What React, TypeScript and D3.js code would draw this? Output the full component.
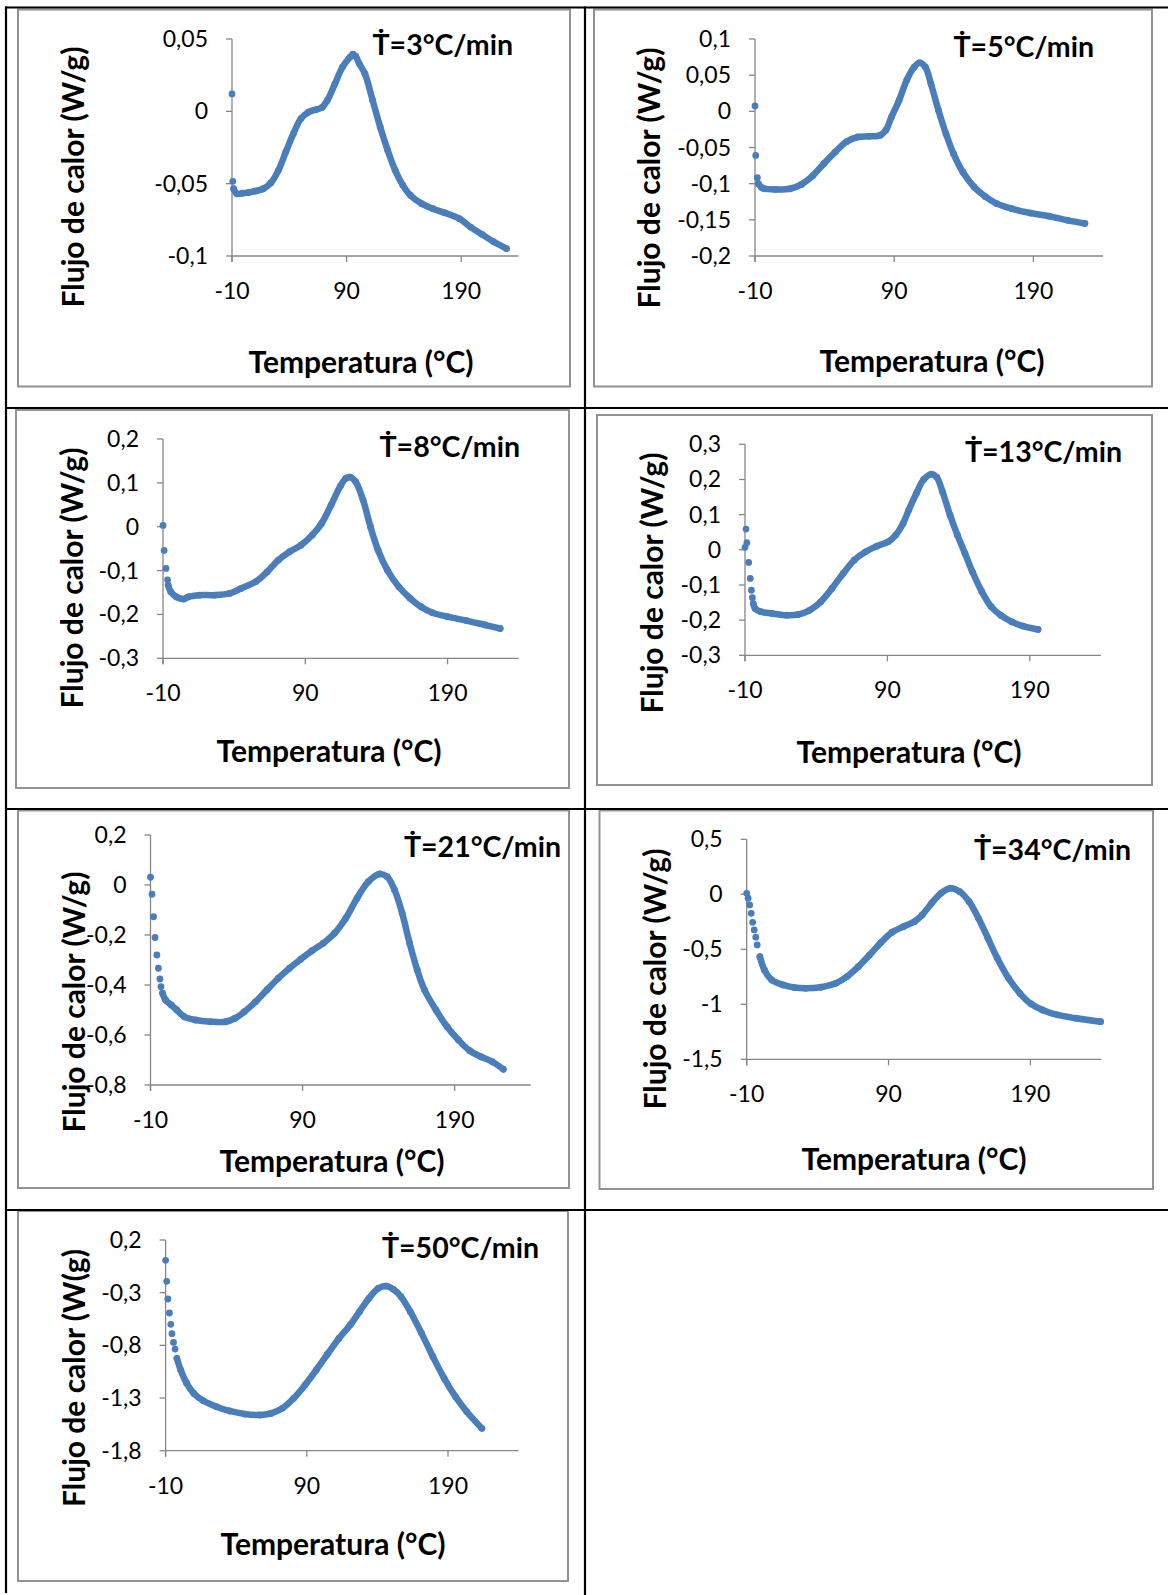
import React from 'react';
import * as d3 from 'd3';

// ---- shared axis settings ----
const tempDomain: [number, number] = [-10, 240];
const tempTicks = [-10, 90, 190];
const tempTickLabels = ['-10', '90', '190'];
const xAxisTitle = 'Temperatura (°C)';
const yAxisTitle = 'Flujo de calor (W/g)';
const yAxisTitleAlt = 'Flujo de calor (W(g)';

// ---- Ṫ = 3 °C/min ----
const r3Title = 'Ṫ=3°C/min';
const r3YTicks = [0.05, 0, -0.05, -0.1];
const r3YTickLabels = ['0,05', '0', '-0,05', '-0,1'];
const r3LeadT = [-10, -9.3];
const r3LeadQ = [0.012, -0.0484];
const r3T = [-8.6, -5.7, -1, 4, 10, 17.3, 23.9, 30.5, 37, 43.6, 50.2, 56.8, 63.4, 68.3, 73.2, 79.8, 86.4, 93, 95.5, 98, 101, 106, 112.7, 119.3, 125.9, 132.4, 139, 145.6, 155.5, 165.3, 175.2, 188.4, 198.2, 208, 218, 229.5];
const r3Q = [-0.0535, -0.057, -0.0566, -0.0562, -0.0552, -0.0535, -0.0495, -0.0408, -0.028, -0.0154, -0.005, -0.0005, 0.0012, 0.0025, 0.0076, 0.019, 0.0306, 0.0375, 0.0395, 0.038, 0.033, 0.026, 0.0076, -0.0108, -0.027, -0.0408, -0.051, -0.058, -0.0638, -0.0673, -0.07, -0.0742, -0.08, -0.085, -0.09, -0.0949];

// ---- Ṫ = 5 °C/min ----
const r5Title = 'Ṫ=5°C/min';
const r5YTicks = [0.1, 0.05, 0, -0.05, -0.1, -0.15, -0.2];
const r5YTickLabels = ['0,1', '0,05', '0', '-0,05', '-0,1', '-0,15', '-0,2'];
const r5LeadT = [-10, -9.5, -8.3];
const r5LeadQ = [0.0074, -0.061, -0.0917];
const r5T = [-7.6, -5.5, -3.5, 4.6, 15.3, 23.4, 31.5, 39.6, 47.7, 55.8, 63.9, 72, 80, 84, 88, 93.5, 99, 104.3, 108.3, 112.4, 116.4, 121.8, 127.2, 132.6, 139.3, 147.4, 155.5, 163.6, 174.4, 187.8, 201.3, 214.8, 227];
const r5Q = [-0.1, -0.105, -0.107, -0.108, -0.107, -0.101, -0.089, -0.072, -0.056, -0.042, -0.0355, -0.0346, -0.033, -0.026, -0.008, 0.015, 0.043, 0.061, 0.067, 0.061, 0.038, 0.0014, -0.031, -0.0585, -0.084, -0.1046, -0.118, -0.1276, -0.1346, -0.1406, -0.145, -0.1507, -0.155];

// ---- Ṫ = 8 °C/min ----
const r8Title = 'Ṫ=8°C/min';
const r8YTicks = [0.2, 0.1, 0, -0.1, -0.2, -0.3];
const r8YTickLabels = ['0,2', '0,1', '0', '-0,1', '-0,2', '-0,3'];
const r8LeadT = [-10, -9.2, -7.9, -6.8];
const r8LeadQ = [0.003, -0.054, -0.095, -0.121];
const r8T = [-6.4, -4.6, -0.6, 4.5, 7.7, 15.6, 26.2, 36.8, 44.7, 55.3, 63.2, 71.1, 79, 87, 94.9, 101.5, 108.1, 114.7, 118.5, 121.5, 125.3, 130.6, 135.8, 141.1, 147.7, 155.7, 163.6, 171.5, 179.4, 190, 203.2, 216.4, 227];
const r8Q = [-0.133, -0.148, -0.16, -0.165, -0.16, -0.156, -0.156, -0.152, -0.141, -0.125, -0.103, -0.076, -0.057, -0.042, -0.019, 0.0076, 0.049, 0.093, 0.11, 0.113, 0.103, 0.061, 0, -0.053, -0.099, -0.137, -0.163, -0.183, -0.196, -0.205, -0.214, -0.224, -0.232];

// ---- Ṫ = 13 °C/min ----
const r13Title = 'Ṫ=13°C/min';
const r13YTicks = [0.3, 0.2, 0.1, 0, -0.1, -0.2, -0.3];
const r13YTickLabels = ['0,3', '0,2', '0,1', '0', '-0,1', '-0,2', '-0,3'];
const r13LeadT = [-10, -9.3, -8.7, -7.4, -6.3, -5.5, -4.8];
const r13LeadQ = [0.007, 0.059, 0.02, -0.036, -0.0815, -0.115, -0.136];
const r13T = [-4.2, -2.9, 1, 9, 19.5, 27.4, 35.3, 43.2, 51, 59, 66.8, 74.7, 82.6, 90.5, 95.8, 101, 105, 110.3, 115.5, 120.8, 124.7, 128.7, 134, 139.2, 144.5, 149.7, 156.3, 162.9, 169.5, 177.4, 185.3, 195.8];
const r13Q = [-0.153, -0.167, -0.176, -0.181, -0.186, -0.184, -0.172, -0.148, -0.11, -0.067, -0.029, -0.0057, 0.0104, 0.0227, 0.042, 0.075, 0.113, 0.16, 0.2, 0.215, 0.206, 0.165, 0.0986, 0.0417, -0.0104, -0.0626, -0.119, -0.162, -0.186, -0.205, -0.217, -0.2265];

// ---- Ṫ = 21 °C/min ----
const r21Title = 'Ṫ=21°C/min';
const r21YTicks = [0.2, 0, -0.2, -0.4, -0.6, -0.8];
const r21YTickLabels = ['0,2', '0', '-0,2', '-0,4', '-0,6', '-0,8'];
const r21LeadT = [-10, -9, -8, -7, -5.8, -4.8, -3.8, -3.1];
const r21LeadQ = [0.031, -0.037, -0.127, -0.21, -0.28, -0.333, -0.376, -0.407];
const r21T = [-2.1, -0.1, 3.6, 7.3, 12.2, 19.6, 29.5, 39.4, 45.6, 51.7, 59.1, 66.5, 74, 81.4, 88.8, 96.2, 103.6, 111, 118.4, 125.8, 133.2, 140.6, 145.6, 150.5, 155.5, 160.4, 165.4, 170.2, 177.7, 185, 192.5, 199.9, 207.3, 214.7, 222];
const r21Q = [-0.433, -0.46, -0.48, -0.5, -0.527, -0.54, -0.547, -0.547, -0.533, -0.507, -0.467, -0.42, -0.373, -0.333, -0.297, -0.263, -0.233, -0.193, -0.133, -0.053, 0.013, 0.044, 0.033, -0.02, -0.113, -0.233, -0.34, -0.42, -0.5, -0.567, -0.62, -0.663, -0.687, -0.707, -0.737];

// ---- Ṫ = 34 °C/min ----
const r34Title = 'Ṫ=34°C/min';
const r34YTicks = [0.5, 0, -0.5, -1, -1.5];
const r34YTickLabels = ['0,5', '0', '-0,5', '-1', '-1,5'];
const r34LeadT = [-10, -9, -7.9, -6.8, -5.8, -4.7, -3.6, -2.6];
const r34LeadQ = [0.009, -0.036, -0.097, -0.173, -0.255, -0.324, -0.39, -0.46];
const r34T = [-0.7, 2.5, 7.7, 15.7, 23.6, 31.6, 42.2, 52.8, 60.7, 68.7, 76.6, 84.6, 92.5, 100.5, 108.4, 113.7, 120.3, 126.9, 133.6, 140.2, 146.8, 153.4, 160.1, 166.7, 174.6, 182.6, 190.5, 198.5, 209.1, 222.3, 239.5];
const r34Q = [-0.567, -0.688, -0.779, -0.824, -0.848, -0.855, -0.845, -0.809, -0.748, -0.658, -0.552, -0.439, -0.345, -0.294, -0.248, -0.188, -0.082, 0.009, 0.055, 0.024, -0.067, -0.218, -0.4, -0.582, -0.764, -0.9, -0.997, -1.052, -1.097, -1.127, -1.158];

// ---- Ṫ = 50 °C/min ----
const r50Title = 'Ṫ=50°C/min';
const r50YTicks = [0.2, -0.3, -0.8, -1.3, -1.8];
const r50YTickLabels = ['0,2', '-0,3', '-0,8', '-1,3', '-1,8'];
const r50LeadT = [-10, -9.2, -8.4, -7.3, -6.3, -5.5, -4.4, -3.3];
const r50LeadQ = [0.007, -0.192, -0.36, -0.493, -0.6, -0.689, -0.772, -0.835];
const r50T = [-2, 0.7, 4.7, 10, 16.7, 26, 35.3, 46, 56.7, 64.7, 72.7, 80.7, 88.7, 96.7, 104.7, 112.7, 120.7, 127.3, 134, 140.7, 146, 151.3, 156.7, 163.3, 171.3, 179.3, 187.3, 195.3, 203.3, 214];
const r50Q = [-0.923, -1.034, -1.154, -1.256, -1.325, -1.382, -1.423, -1.452, -1.461, -1.446, -1.398, -1.303, -1.177, -1.034, -0.882, -0.734, -0.607, -0.48, -0.354, -0.259, -0.237, -0.268, -0.338, -0.48, -0.686, -0.908, -1.113, -1.287, -1.43, -1.588];

type Series = {
  title: string;
  yLabel: string;
  yTicks: number[];
  yTickLabels: string[];
  leadT: number[];
  leadQ: number[];
  t: number[];
  q: number[];
};

const series: Series[] = [
  { title: r3Title, yLabel: yAxisTitle, yTicks: r3YTicks, yTickLabels: r3YTickLabels, leadT: r3LeadT, leadQ: r3LeadQ, t: r3T, q: r3Q },
  { title: r5Title, yLabel: yAxisTitle, yTicks: r5YTicks, yTickLabels: r5YTickLabels, leadT: r5LeadT, leadQ: r5LeadQ, t: r5T, q: r5Q },
  { title: r8Title, yLabel: yAxisTitle, yTicks: r8YTicks, yTickLabels: r8YTickLabels, leadT: r8LeadT, leadQ: r8LeadQ, t: r8T, q: r8Q },
  { title: r13Title, yLabel: yAxisTitle, yTicks: r13YTicks, yTickLabels: r13YTickLabels, leadT: r13LeadT, leadQ: r13LeadQ, t: r13T, q: r13Q },
  { title: r21Title, yLabel: yAxisTitle, yTicks: r21YTicks, yTickLabels: r21YTickLabels, leadT: r21LeadT, leadQ: r21LeadQ, t: r21T, q: r21Q },
  { title: r34Title, yLabel: yAxisTitle, yTicks: r34YTicks, yTickLabels: r34YTickLabels, leadT: r34LeadT, leadQ: r34LeadQ, t: r34T, q: r34Q },
  { title: r50Title, yLabel: yAxisTitleAlt, yTicks: r50YTicks, yTickLabels: r50YTickLabels, leadT: r50LeadT, leadQ: r50LeadQ, t: r50T, q: r50Q },
];

// ---- page layout (pixels) ----
type Layout = {
  frame: [number, number, number, number]; // x0, y0, x1, y1
  plot: [number, number, number, number]; // left, right, top, bottom
  title: [number, number];
  xLabel: [number, number];
  yLabel: [number, number];
};

const layouts: Layout[] = [
  { frame: [18, 9.5, 570, 386.5], plot: [232, 518.5, 39, 256], title: [513, 55], xLabel: [361, 373], yLabel: [84, 177] },
  { frame: [594, 9.5, 1152, 386.5], plot: [755, 1103, 39, 256], title: [1094, 56.5], xLabel: [932, 372], yLabel: [660, 178] },
  { frame: [16, 410, 569, 788], plot: [163, 518.7, 439, 658.3], title: [520, 456.5], xLabel: [329, 762], yLabel: [82.5, 578] },
  { frame: [597, 415, 1152, 785], plot: [745, 1101, 444.3, 655.3], title: [1122, 461.5], xLabel: [909, 763], yLabel: [662.5, 583] },
  { frame: [18, 810.5, 569, 1188], plot: [150.5, 530.7, 835, 1085], title: [561, 856.5], xLabel: [332, 1172], yLabel: [85, 1002] },
  { frame: [599.5, 810.5, 1153, 1189], plot: [746.7, 1101.3, 839.3, 1059.3], title: [1131, 860], xLabel: [914, 1170], yLabel: [666, 979] },
  { frame: [18, 1211, 568, 1581], plot: [165.6, 518.6, 1240, 1450.7], title: [539, 1258], xLabel: [333, 1555], yLabel: [84.5, 1378] },
];

const WIDTH = 1168;
const HEIGHT = 1595;
const FONT = "Lato, 'Open Sans', 'DejaVu Sans', sans-serif";
const MARK = '#4a7ebb';
const AXIS = '#868686';
const FRAME = '#939393';
const TICK_LEN = 6;
const TICK_FONT = 23;
const LABEL_FONT = 30;
const TITLE_FONT = 28.5;

function Panel({ s, l }: { s: Series; l: Layout }) {
  const [left, right, top, bottom] = l.plot;
  const x = d3.scaleLinear().domain(tempDomain).range([left, right]);
  const yMax = s.yTicks[0];
  const yMin = s.yTicks[s.yTicks.length - 1];
  const y = d3.scaleLinear().domain([yMin, yMax]).range([bottom, top]);

  const pts: [number, number][] = s.t.map((t, i) => [t, s.q[i]]);
  const lead: [number, number][] = s.leadT.map((t, i) => [t, s.leadQ[i]]);
  const line = d3
    .line<[number, number]>()
    .x((d) => x(d[0]))
    .y((d) => y(d[1]))
    .curve(d3.curveCatmullRom.alpha(0.5));

  const [fx0, fy0, fx1, fy1] = l.frame;

  return (
    <g>
      <rect x={fx0} y={fy0} width={fx1 - fx0} height={fy1 - fy0} fill="#fff" stroke={FRAME} strokeWidth={2} />

      {/* value axis */}
      <line x1={left} x2={left} y1={top} y2={bottom + TICK_LEN} stroke={AXIS} strokeWidth={1.3} />
      {s.yTicks.map((v, i) => (
        <g key={'yt' + i}>
          <line x1={left - TICK_LEN} x2={left} y1={y(v)} y2={y(v)} stroke={AXIS} strokeWidth={1.3} />
          <text x={left - 24} y={y(v) + 8} textAnchor="end" fontFamily={FONT} fontSize={TICK_FONT} fill="#000">
            {s.yTickLabels[i]}
          </text>
        </g>
      ))}

      {/* temperature axis */}
      <line x1={left} x2={right} y1={bottom} y2={bottom} stroke={AXIS} strokeWidth={1.3} />
      {tempTicks.map((v, i) => (
        <g key={'xt' + i}>
          <line x1={x(v)} x2={x(v)} y1={bottom} y2={bottom + TICK_LEN} stroke={AXIS} strokeWidth={1.3} />
          <text x={x(v)} y={bottom + 43} textAnchor="middle" fontFamily={FONT} fontSize={TICK_FONT} fill="#000">
            {tempTickLabels[i]}
          </text>
        </g>
      ))}

      {/* measured heat flow */}
      <path d={line(pts) ?? ''} fill="none" stroke={MARK} strokeWidth={6.5} strokeLinecap="round" strokeLinejoin="round" />
      {pts.map((d, i) => (
        <circle key={'p' + i} cx={x(d[0])} cy={y(d[1])} r={3.4} fill={MARK} />
      ))}
      {lead.map((d, i) => (
        <circle key={'l' + i} cx={x(d[0])} cy={y(d[1])} r={3.4} fill={MARK} />
      ))}

      {/* titles */}
      <text x={l.title[0]} y={l.title[1]} textAnchor="end" fontFamily={FONT} fontWeight="bold" fontSize={TITLE_FONT} fill="#000">
        {s.title}
      </text>
      <text x={l.xLabel[0]} y={l.xLabel[1]} textAnchor="middle" fontFamily={FONT} fontWeight="bold" fontSize={LABEL_FONT} fill="#000">
        {xAxisTitle}
      </text>
      <text
        transform={`translate(${l.yLabel[0]},${l.yLabel[1]}) rotate(-90)`}
        textAnchor="middle"
        fontFamily={FONT}
        fontWeight="bold"
        fontSize={LABEL_FONT}
        fill="#000"
      >
        {s.yLabel}
      </text>
    </g>
  );
}

export default function App() {
  return (
    <svg
      width={WIDTH}
      height={HEIGHT}
      viewBox={`0 0 ${WIDTH} ${HEIGHT}`}
      style={{ position: 'absolute', left: 0, top: 0, background: '#fff' }}
    >
      <rect x={0} y={0} width={WIDTH} height={HEIGHT} fill="#fff" />
      {series.map((s, i) => (
        <Panel key={i} s={s} l={layouts[i]} />
      ))}
      {/* table grid */}
      <g stroke="#000" strokeWidth={2.2}>
        <line x1={5} x2={WIDTH} y1={7.5} y2={7.5} />
        <line x1={5} x2={WIDTH} y1={408} y2={408} />
        <line x1={5} x2={WIDTH} y1={809} y2={809} />
        <line x1={5} x2={WIDTH} y1={1210} y2={1210} />
        <line x1={6} x2={6} y1={6.5} y2={1593} />
        <line x1={585} x2={585} y1={6.5} y2={HEIGHT} />
      </g>
    </svg>
  );
}
